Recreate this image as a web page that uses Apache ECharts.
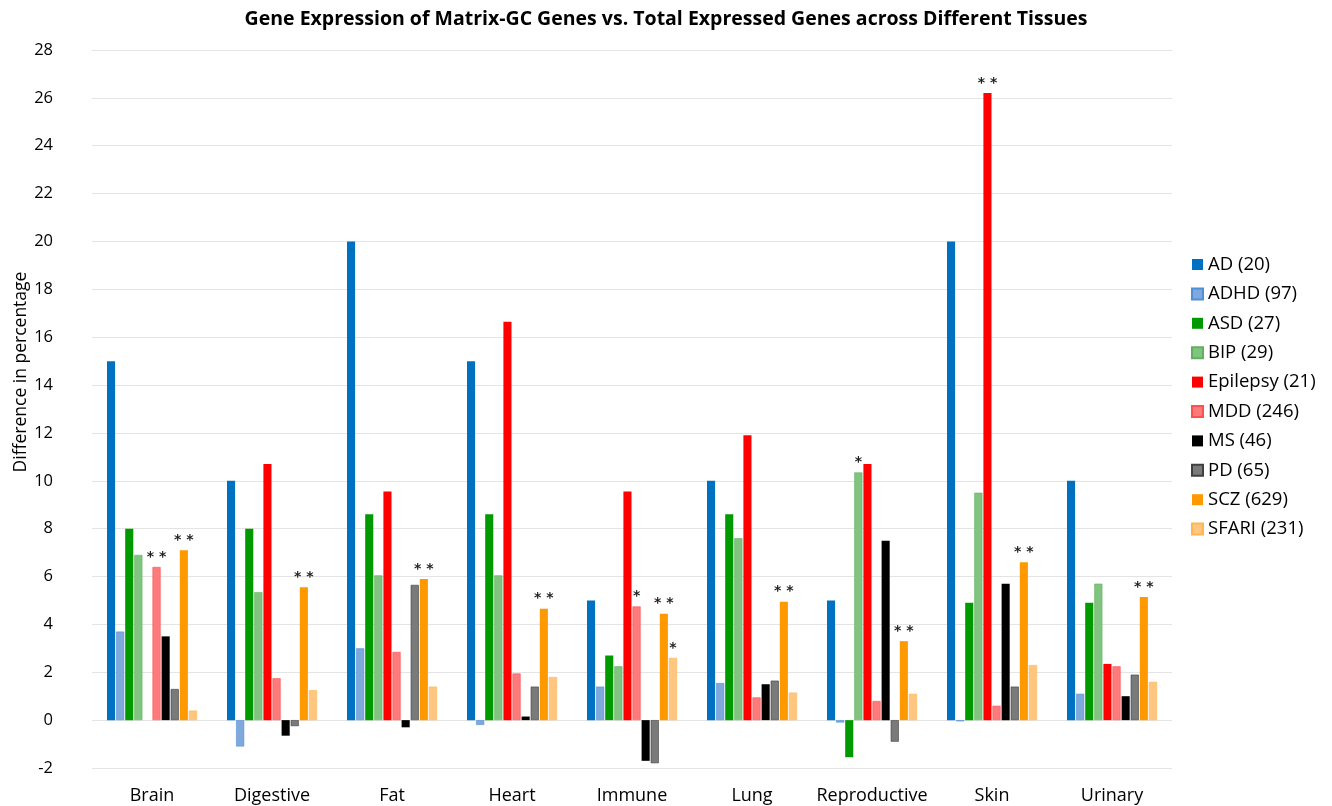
<!DOCTYPE html>
<html><head><meta charset="utf-8">
<script src="https://cdn.jsdelivr.net/npm/echarts@6/dist/echarts.min.js"></script>
<style>html,body{margin:0;padding:0;background:#fff}#c{width:1332px;height:806px}</style>
</head><body><div id="c"></div>
<script>
const categories = ['Brain','Digestive','Fat','Heart','Immune','Lung','Reproductive','Skin','Urinary'];
const seriesNames = ['AD (20)','ADHD (97)','ASD (27)','BIP (29)','Epilepsy (21)','MDD (246)','MS (46)','PD (65)','SCZ (629)','SFARI (231)'];
const AD       = [15, 10, 20, 15, 5, 10, 5, 20, 10];
const ADHD     = [3.7, -1.1, 3.0, -0.2, 1.4, 1.55, -0.1, -0.05, 1.1];
const ASD      = [8, 8, 8.6, 8.6, 2.7, 8.6, -1.55, 4.9, 4.9];
const BIP      = [6.9, 5.35, 6.05, 6.05, 2.25, 7.6, 10.35, 9.5, 5.7];
const Epilepsy = [null, 10.7, 9.55, 16.65, 9.55, 11.9, 10.7, 26.2, 2.35];
const MDD      = [6.4, 1.75, 2.85, 1.95, 4.75, 0.95, 0.8, 0.6, 2.25];
const MS       = [3.5, -0.65, -0.3, 0.15, -1.7, 1.5, 7.5, 5.7, 1.0];
const PD       = [1.3, -0.25, 5.65, 1.4, -1.8, 1.65, -0.9, 1.4, 1.9];
const SCZ      = [7.1, 5.55, 5.9, 4.65, 4.45, 4.95, 3.3, 6.6, 5.15];
const SFARI    = [0.4, 1.25, 1.4, 1.8, 2.6, 1.15, 1.1, 2.3, 1.6];
// significance marks per series (by category)
const sigEpilepsy = ['', '', '', '', '', '', '', '**', ''];
const sigBIP      = ['', '', '', '', '', '', '*', '', ''];
const sigMDD      = ['**', '', '', '', '*', '', '', '', ''];
const sigSCZ      = ['**', '**', '**', '**', '**', '**', '**', '**', '**'];
const sigSFARI    = ['', '', '', '', '*', '', '', '', ''];
const noSig = ['', '', '', '', '', '', '', '', ''];

const values = [AD, ADHD, ASD, BIP, Epilepsy, MDD, MS, PD, SCZ, SFARI];
const sigs = [noSig, noSig, noSig, sigBIP, sigEpilepsy, sigMDD, noSig, noSig, sigSCZ, sigSFARI];
const fills = ['#0070c0', '#7fa9dc', '#009900', '#80c47f', '#ff0000', '#ff7a7a', '#000000', '#7a7a7a', '#ff9900', '#ffc680'];
const borders = ['#0070c0', '#4f8fd6', '#009900', '#5fb05f', '#ff0000', '#ff5050', '#000000', '#404040', '#ff9900', '#ffb550'];

const series = seriesNames.map((n, i) => ({
  name: n,
  type: 'bar',
  barGap: '12.5%',
  barCategoryGap: '25%',
  itemStyle: { color: fills[i], borderColor: borders[i], borderWidth: (i % 2 === 1 || i===3) ? 0.6 : 0 },
  data: values[i].map((v, k) => {
    const s = sigs[i][k];
    if (v === null) return '-';
    return s ? { value: v, label: { show: true, position: 'top', distance: 3, formatter: s.split('').join(' '), color: '#222', fontSize: 14, fontFamily: 'DejaVu Sans', fontWeight: 'bold' } } : v;
  })
}));

const chart = echarts.init(document.getElementById('c'), null, { renderer: 'canvas' });
chart.setOption({
  animation: false,
  backgroundColor: '#fff',
  title: {
    text: 'Gene Expression of Matrix-GC Genes vs. Total Expressed Genes across Different Tissues',
    left: 661, top: 4, textAlign: 'center',
    textStyle: { fontFamily: 'Open Sans', fontWeight: 'bold', fontSize: 19.5, color: '#000' }
  },
  legend: {
    orient: 'vertical', left: 1186, top: 250, itemWidth: 11, itemHeight: 11, itemGap: 10.4,
    icon: 'rect',
    textStyle: { fontFamily: 'Open Sans', fontSize: 18.5, lineHeight: 18, color: '#000' },
    data: seriesNames
  },
  graphic: [{
    type: 'text', x: 21, y: 372, rotation: Math.PI / 2,
    style: { text: 'Difference in percentage', fill: '#000', font: '17.5px "Open Sans"', align: 'center', verticalAlign: 'middle' }
  }],
  grid: { left: 92, right: 160, top: 50, bottom: 38 },
  xAxis: {
    type: 'category', data: categories,
    axisLine: { show: false, onZero: false }, axisTick: { show: false },
    axisLabel: { interval: 0, color: '#000', fontFamily: 'Open Sans', fontSize: 18, margin: 19 }
  },
  yAxis: {
    type: 'value', min: -2, max: 28, interval: 2,
    axisLabel: { color: '#000', fontFamily: 'Open Sans', fontSize: 16.5, margin: 39 },
    splitLine: { lineStyle: { color: '#e4e4e4', width: 1 } }
  },
  series: series
});
</script></body></html>
